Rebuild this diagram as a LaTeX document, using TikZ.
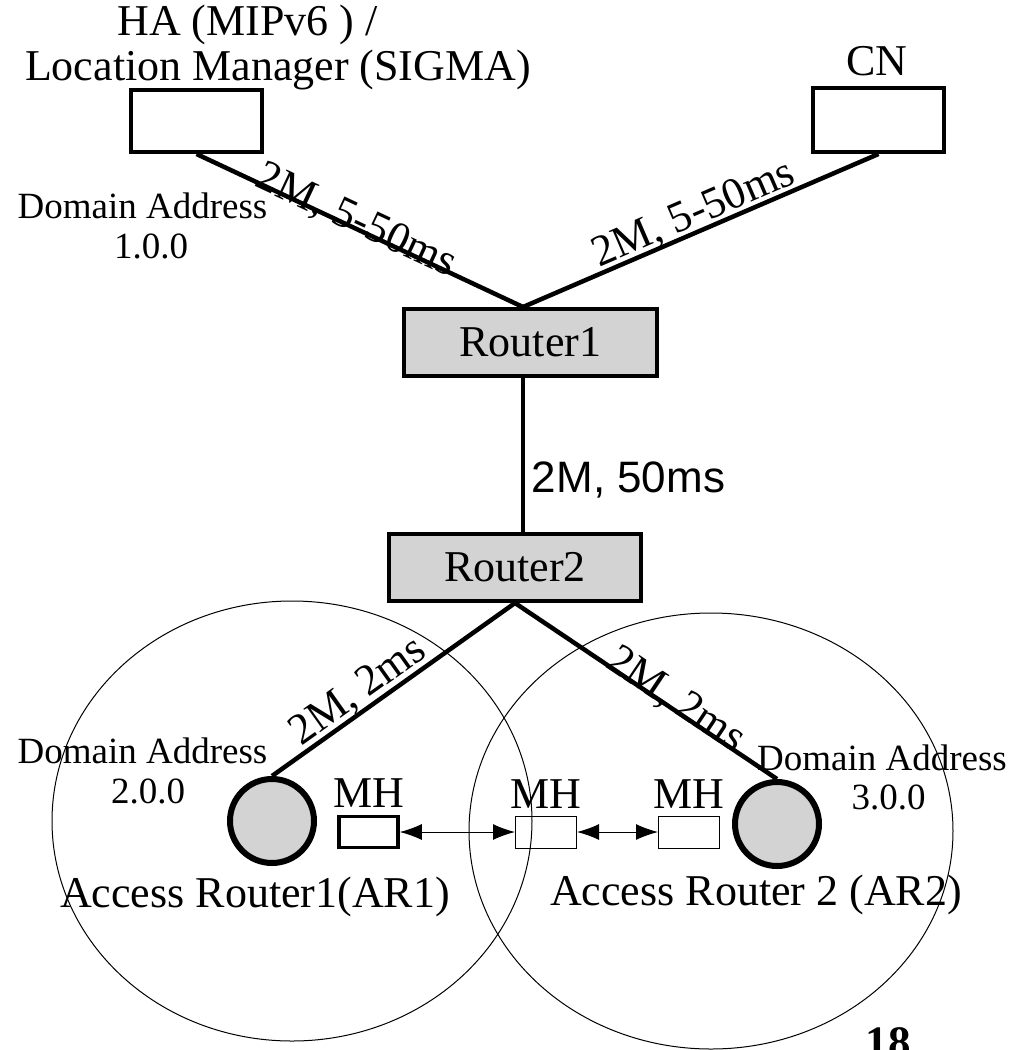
\documentclass[tikz,border=0pt]{standalone}
\usepackage{fontspec}
\setmainfont{Liberation Serif}
\setsansfont{Liberation Sans}
\usepackage{xcolor}
\definecolor{routergray}{RGB}{211, 211, 211}
\usepackage{tikz}
\usetikzlibrary{arrows.meta, positioning}

\begin{document}
\begin{tikzpicture}[x=0.5pt, y=-0.5pt,
    txt/.style={font=\fontsize{22}{26}\selectfont, anchor=base, inner sep=0pt},
    addr/.style={font=\fontsize{18.5}{22}\selectfont, anchor=base, inner sep=0pt},
    host/.style={draw, line width=2pt, minimum width=65.5pt, minimum height=31pt, inner sep=0pt},
    router/.style={draw, line width=2pt, fill=routergray, minimum width=126.5pt, minimum height=33.5pt, font=\fontsize{22}{26}\selectfont},
    access/.style={circle, draw, line width=3pt, fill=routergray, minimum size=42pt, inner sep=0pt},
    mhbox/.style={draw, line width=0.5pt, minimum width=30.5pt, minimum height=16pt, inner sep=0pt},
    link/.style={line width=2.25pt},
    linklabel/.style={sloped, anchor=base, inner sep=0pt, font=\fontsize{22}{26}\selectfont},
    cell/.style={line width=0.5pt},
    move/.style={line width=0.5pt, {Latex[length=11pt, width=8pt]}-{Latex[length=11pt, width=8pt]}}]
    \useasboundingbox (0,0) rectangle (1022,1050);

    % coverage of the two access routers
    \draw[cell] (292,821) ellipse [x radius=240, y radius=220];
    \draw[cell] (711,831) ellipse [x radius=242, y radius=218];

    \node[host] (ha) at (196.5,121) {};
    \node[host, minimum height=32pt] (cn) at (878.5,120) {};
    \node[router] (r1) at (530.5,342.5) {Router1};
    \node[router, minimum width=126pt] (r2) at (515,567.5) {Router2};
    \node[access] (ar1) at (272,821) {};
    \node[access] (ar2) at (777,824) {};
    \node[mhbox, line width=1.75pt, minimum width=29.5pt, minimum height=15.5pt] (mh1) at (368.5,832) {};
    \node[mhbox] (mh2) at (546,832) {};
    \node[mhbox] (mh3) at (689,832) {};
    \coordinate (trunk) at (523,0);

    \node[txt] (hatext) at (247.5,35) {HA (MIPv6 ) /};
    \node[txt] (lmtext) at (278,80) {Location Manager (SIGMA)};
    \node[txt] (cntext) at (877,75) {CN};
    \node[addr] (dom1) at (142.5,218) {Domain Address};
    \node[addr] (ip1) at (151,258) {1.0.0};
    \node[addr] (dom2) at (142.5,763) {Domain Address};
    \node[addr] (ip2) at (148,803) {2.0.0};
    \node[addr] (dom3) at (882,770) {Domain Address};
    \node[addr] (ip3) at (888.5,809) {3.0.0};
    \node[txt] (ar1text) at (255,907) {Access Router1(AR1)};
    \node[txt] (ar2text) at (756,905) {Access Router 2 (AR2)};
    \node[txt, above=3.5pt of mh1] (mh1text) {MH};
    \node[txt, above=3.5pt of mh2] (mh2text) {MH};
    \node[txt, above=3.5pt of mh3] (mh3text) {MH};
    \node[txt, font=\bfseries\fontsize{22.5}{26}\selectfont] (slide) at (888,1057) {18};

    % links
    \draw[link] (ha.south) -- node[linklabel, pos=0.48, yshift=-2.25pt] {2M, 5-50ms} (r1.north -| trunk);
    \draw[link] (r1.north -| trunk) -- node[linklabel, pos=0.5, yshift=3pt] {2M, 5-50ms} (cn.south);
    \draw[link] (r1.south -| trunk) -- node[pos=0.66, right, font=\sffamily\fontsize{22}{26}\selectfont] {2M, 50ms} (r2.north -| trunk);
    \draw[link] (r2.south) -- node[linklabel, pos=0.6, yshift=3.75pt] {2M, 2ms} (ar1.north);
    \draw[link] (r2.south) -- node[linklabel, pos=0.595, yshift=-1.25pt] {2M, 2ms} (ar2.north);
    \draw[move] (mh1) -- (mh2);
    \draw[move] (mh2) -- (mh3);
\end{tikzpicture}
\end{document}
